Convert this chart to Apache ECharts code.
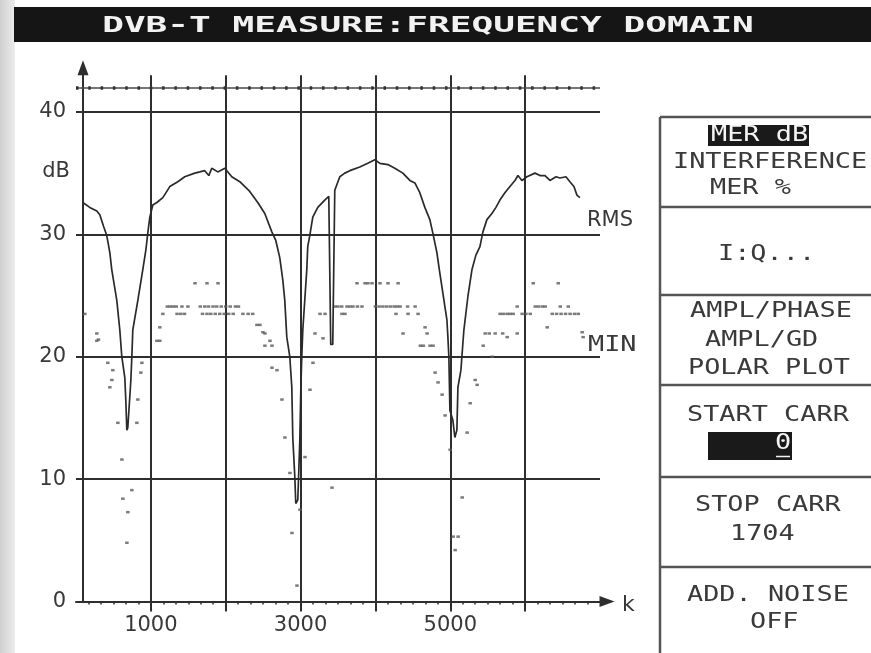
<!DOCTYPE html>
<html>
<head>
<meta charset="utf-8">
<title>DVB-T Measure: Frequency Domain</title>
<script src="https://cdn.jsdelivr.net/npm/echarts@6/dist/echarts.min.js"></script>
<style>
  html, body { margin: 0; padding: 0; background: #ffffff; }
  #chart { width: 871px; height: 653px; }
</style>
</head>
<body>
<div id="chart"></div>
<script>
// ---- MER per carrier, RMS trace (carrier index k, dB) ----
const rmsK = [91, 184, 278, 318, 371, 411, 452, 478, 545, 585, 612, 652, 665, 679, 692, 732, 746, 759, 826, 892,
  933, 959, 986, 1026, 1080, 1160, 1253, 1360, 1453, 1587, 1654, 1720, 1774, 1814, 1894, 1988, 2081, 2188, 2321, 2428,
  2522, 2616, 2669, 2722, 2762, 2789, 2816, 2856, 2883, 2896, 2923, 2936, 2963, 2990, 3003, 3016, 3030, 3056, 3083, 3096,
  3123, 3163, 3230, 3323, 3377, 3403, 3430, 3457, 3524, 3591, 3658, 3791, 3898, 3992, 4059, 4166, 4259, 4366, 4460, 4527,
  4593, 4660, 4727, 4767, 4821, 4861, 4901, 4928, 4955, 4968, 4981, 4995, 5035, 5061, 5088, 5102, 5142, 5155, 5182, 5235,
  5289, 5342, 5396, 5436, 5489, 5556, 5610, 5663, 5730, 5797, 5864, 5904, 5957, 6024, 6131, 6198, 6265, 6331, 6412, 6465,
  6545, 6598, 6652, 6692, 6732];
const rmsDb = [32.6, 32.2, 31.9, 31.6, 30.6, 29.9, 28.5, 27.1, 24.6, 22.2, 20.0, 18.3, 16.5, 14.0, 14.2, 18.0, 20.0, 22.2, 24.6, 27.1,
  28.7, 30.1, 31.4, 32.4, 32.6, 33.0, 33.9, 34.3, 34.7, 35.0, 35.1, 35.2, 34.8, 35.4, 35.1, 35.4, 34.7, 34.3, 33.5, 32.6,
  31.7, 30.2, 29.5, 28.1, 26.3, 24.6, 21.6, 20.0, 17.5, 13.4, 10.2, 8.0, 8.3, 13.2, 17.3, 20.0, 22.2, 24.6, 27.1, 29.0,
  29.9, 31.4, 32.2, 32.8, 33.1, 21.0, 21.0, 33.6, 34.7, 35.0, 35.2, 35.5, 35.8, 36.1, 35.8, 35.7, 35.4, 35.0, 34.4, 34.2,
  33.4, 32.2, 31.2, 30.1, 28.5, 26.8, 25.2, 24.1, 23.0, 21.6, 20.0, 15.6, 14.8, 13.4, 14.0, 17.5, 18.9, 20.0, 22.2, 24.9,
  27.1, 28.3, 29.0, 30.2, 31.2, 31.7, 32.2, 32.8, 33.4, 33.9, 34.4, 34.8, 34.4, 34.7, 35.0, 34.8, 34.8, 34.4, 34.7, 34.6,
  34.7, 34.3, 33.9, 33.2, 33.0];

// ---- MER per carrier, MIN samples (carrier index k, dB) ----
const minK = [118, 278, 278, 300,
  425, 452, 479, 492, 559, 613, 626, 680, 693, 746, 813, 826, 866, 880,
  1080, 1120, 1120,
  1590, 1750, 1897,
  1220, 1260, 1300, 1340, 1415, 1495, 1660, 1720, 1770, 1830, 1880, 1940, 2000, 2060, 2130, 2170,
  1160, 1350, 1400, 1450, 1690, 1750, 1800, 1860, 1920, 1980, 2040, 2100, 2230, 2300, 2360,
  2417, 2457, 2497, 2524, 2524, 2591, 2618, 2618, 2685, 2751, 2791, 2858, 2885, 2952, 2992, 3059, 3126, 3166, 3420,
  3193, 3300, 3260, 3327, 3553, 3593,
  3460, 3500, 3550, 3620, 3660, 3700, 3760, 3820, 4000, 4050, 4100, 4150, 4200, 4250, 4290, 4330, 4430, 4530,
  3754, 3861, 3900, 3955, 4061, 4168, 4303,
  4275, 4436, 4570,
  4369, 4663, 4690, 4600, 4640, 4730, 4770,
  4797, 4837, 4891, 4931, 4998, 5159, 5039, 5105, 5065, 5225, 5266, 5333, 5359, 5440, 5560,
  5466, 5520, 5600, 5700, 5894, 5760, 6295, 6762, 6775,
  6108, 6442,
  5894, 6135, 6180, 6230, 6269, 6469, 6576,
  5666, 5710, 5760, 5800, 5840, 5960, 6010, 6068, 6362, 6420, 6480, 6540, 6600, 6660, 6710];
const minDb = [23.5, 21.9, 21.3, 21.4,
  19.5, 17.5, 18.1, 18.9, 14.6, 11.6, 8.4, 4.8, 7.3, 9.1, 14.6, 16.5, 18.7, 19.5,
  21.3, 22.4, 21.3,
  26.0, 26.0, 26.0,
  24.1, 24.1, 24.1, 24.1, 24.1, 24.1, 24.1, 24.1, 24.1, 24.1, 24.1, 24.1, 24.1, 24.1, 24.1, 24.1,
  23.5, 23.5, 23.5, 23.5, 23.5, 23.5, 23.5, 23.5, 23.5, 23.5, 23.5, 23.5, 23.5, 23.5, 23.5,
  22.6, 22.6, 22.0, 21.9, 20.9, 21.3, 20.9, 19.1, 18.9, 16.5, 13.4, 10.5, 5.6, 1.3, 7.5, 11.8, 17.3, 19.5, 9.3,
  21.9, 21.5, 23.5, 23.5, 23.5, 23.5,
  24.1, 24.1, 24.1, 24.1, 24.1, 24.1, 24.1, 24.1, 24.1, 24.1, 24.1, 24.1, 24.1, 24.1, 24.1, 24.1, 24.1, 24.1,
  26.0, 26.0, 26.0, 26.0, 26.0, 26.0, 26.0,
  23.5, 23.5, 23.5,
  21.9, 22.4, 21.9, 20.9, 20.9, 20.9, 20.9,
  18.7, 17.9, 16.9, 15.2, 12.4, 8.5, 5.3, 5.3, 4.2, 13.8, 16.2, 18.1, 17.7, 20.9, 20.0,
  21.9, 21.9, 21.9, 21.9, 21.9, 21.6, 22.4, 22.0, 21.6,
  26.0, 26.0,
  24.1, 24.1, 24.1, 24.1, 24.1, 24.1, 24.1,
  23.5, 23.5, 23.5, 23.5, 23.5, 23.5, 23.5, 23.5, 23.5, 23.5, 23.5, 23.5, 23.5, 23.5, 23.5];

// ---- axes ----
const xGridValues = [1000, 2000, 3000, 4000, 5000, 6000];
const xTickLabels = [1000, 3000, 5000];
const yTickLabels = [0, 10, 20, 30, 40];
const refLevelDb = 42;

// ---- softkey menu ----
const menuTitle = 'DVB-T MEASURE:FREQUENCY DOMAIN';
const startCarrier = '0';
const stopCarrier = '1704';

const ink = '#2e2e2e';
const monoFont = '"DejaVu Sans Mono", "Liberation Mono", monospace';
const sansFont = '"DejaVu Sans", "Liberation Sans", sans-serif';

const chart = echarts.init(document.getElementById('chart'), null, { renderer: 'canvas' });

// text helper: left/center aligned text, optionally stretched horizontally
function label(text, x, y, opts) {
  const o = opts || {};
  const align = o.align || 'left';
  return {
    type: 'text',
    x: x, y: y,
    scaleX: o.scaleX || 1,
    z: 20,
    style: {
      text: text, x: 0, y: 0,
      font: o.font,
      fill: o.fill || '#333',
      align: align, textAlign: align,
      verticalAlign: 'middle', textVerticalAlign: 'middle'
    }
  };
}
function hline(x1, x2, y, w, c, z) {
  return { type: 'line', z: z || 15, shape: { x1: x1, y1: y, x2: x2, y2: y }, style: { stroke: c || '#555', lineWidth: w || 2.5 } };
}
function vline(x, y1, y2, w, c) {
  return { type: 'line', z: 15, shape: { x1: x, y1: y1, x2: x, y2: y2 }, style: { stroke: c || '#555', lineWidth: w || 2.5 } };
}

const keyFont = '21px ' + monoFont;
const keyScale = 1.28;
const key = (t, x, y, fill) => label(t, x, y, { font: keyFont, scaleX: keyScale, fill: fill || '#3a3a3a' });

const graphics = [
  // scanner shading on the left margin
  { type: 'rect', z: -5, shape: { x: 0, y: 0, width: 15, height: 653 },
    style: { fill: new echarts.graphic.LinearGradient(0, 0, 1, 0, [
      { offset: 0, color: '#cfcfcf' }, { offset: 1, color: '#ececec' }]) } },
  // title bar
  { type: 'rect', z: 10, shape: { x: 14, y: 7, width: 857, height: 35 }, style: { fill: '#151515' } },
  label(menuTitle, 428, 26, { font: 'bold 22px ' + monoFont, scaleX: 1.64, fill: '#f2f2f2', align: 'center' }),
  // axis annotations
  label('dB', 70, 172, { font: '21px ' + sansFont, align: 'right', fill: '#383838' }),
  label('RMS', 587, 221, { font: '21px ' + sansFont, fill: '#383838' }),
  key('MIN', 588, 346),
  label('k', 622, 605, { font: '22px ' + sansFont, fill: '#383838' }),
  // softkey panel frame
  vline(660, 117, 653),
  hline(660, 871, 117), hline(660, 871, 207), hline(660, 871, 295),
  hline(660, 871, 385), hline(660, 871, 477), hline(660, 871, 567),
  // key 1
  { type: 'rect', z: 16, shape: { x: 708, y: 125, width: 101, height: 21 }, style: { fill: '#1a1a1a' } },
  key('MER dB', 711, 135.5, '#f4f4f4'),
  key('INTERFERENCE', 673, 163),
  key('MER %', 710, 189),
  // key 2
  key('I:Q...', 718, 255),
  // key 3
  key('AMPL/PHASE', 690, 312),
  key('AMPL/GD', 705, 341),
  key('POLAR PLOT', 688, 369),
  // key 4
  key('START CARR', 687, 416),
  { type: 'rect', z: 16, shape: { x: 708, y: 432, width: 84, height: 28 }, style: { fill: '#1a1a1a' } },
  key(startCarrier, 775, 444, '#f4f4f4'),
  hline(776, 790, 456.5, 1.5, '#f4f4f4', 21),
  // key 5
  key('STOP CARR', 695, 506),
  key(stopCarrier, 730, 535),
  // key 6
  key('ADD. NOISE', 687, 596),
  key('OFF', 750, 623)
];

const option = {
  animation: false,
  backgroundColor: '#ffffff',
  grid: { left: 76, right: 271, top: 75.2, bottom: 51.5, containLabel: false },
  xAxis: {
    type: 'value',
    min: 0, max: 7000, interval: 1000,
    axisLine: {
      show: true, onZero: false,
      symbol: ['none', 'triangle'], symbolSize: [11, 15], symbolOffset: [0, 7],
      lineStyle: { color: ink, width: 2 }
    },
    // ticks and vertical grid only at the whole thousands 1000..6000
    axisTick: { show: true, length: 10, customValues: xGridValues, lineStyle: { color: ink, width: 2 } },
    minorTick: { show: true, splitNumber: 6, length: 3, lineStyle: { color: ink, width: 1.5 } },
    splitLine: { show: true, showMinLine: true, showMaxLine: true, lineStyle: { color: ink, width: 2 } },
    axisLabel: {
      margin: 14, color: '#383838', fontSize: 21, fontFamily: sansFont,
      formatter: v => (xTickLabels.indexOf(v) >= 0 ? String(v) : '')
    }
  },
  yAxis: {
    type: 'value',
    min: 0, max: 43, interval: 10,
    offset: -7,
    axisLine: {
      show: true, onZero: false,
      symbol: ['none', 'triangle'], symbolSize: [11, 15], symbolOffset: [0, 7.5],
      lineStyle: { color: ink, width: 2 }
    },
    axisTick: { show: false },
    splitLine: { show: true, showMinLine: false, showMaxLine: false, lineStyle: { color: ink, width: 2 } },
    axisLabel: {
      margin: 17, color: '#383838', fontSize: 21, fontFamily: sansFont,
      formatter: v => (yTickLabels.indexOf(v) >= 0 ? String(v) : '')
    }
  },
  series: [
    {
      name: 'RMS',
      type: 'line',
      data: rmsK.map((k, i) => [k, rmsDb[i]]),
      showSymbol: false,
      lineStyle: { color: '#2a2a2a', width: 1.7 },
      z: 5,
      markLine: {
        silent: true, symbol: 'none', label: { show: false },
        data: [
          { yAxis: refLevelDb, lineStyle: { type: 'solid', color: '#4a4a4a', width: 1.6 } },
          { yAxis: refLevelDb, lineStyle: { type: [2.5, 9.8], color: '#333', width: 3.5 } }
        ]
      }
    },
    {
      name: 'MIN',
      type: 'scatter',
      data: minK.map((k, i) => [k, minDb[i]]),
      symbol: 'rect',
      symbolSize: [3.5, 2.5],
      itemStyle: { color: '#5a5a5a' },
      z: 4
    }
  ],
  graphic: { elements: graphics }
};

chart.setOption(option);
</script>
</body>
</html>
